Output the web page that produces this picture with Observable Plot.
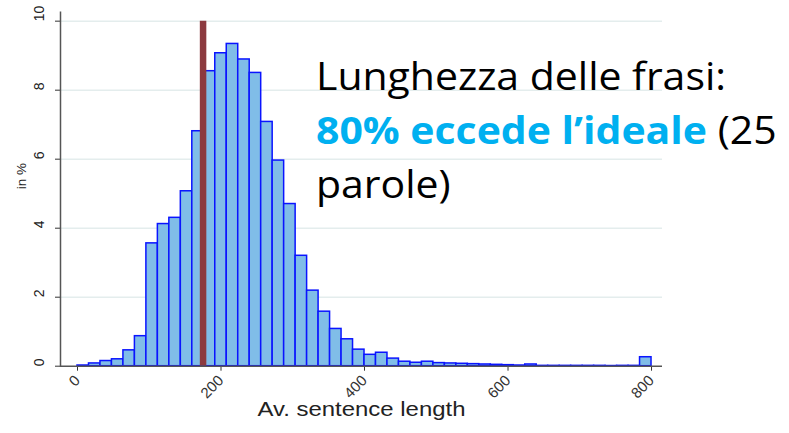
<!DOCTYPE html>
<html><head><meta charset="utf-8">
<script src="https://cdn.jsdelivr.net/npm/d3@7"></script>
<script src="https://cdn.jsdelivr.net/npm/@observablehq/plot@0.6"></script>
<style>
body{margin:0;background:#fff;}
#wrap{position:relative;width:789px;height:433px;overflow:hidden;background:#fff;}
#note{position:absolute;left:316px;top:48px;font-family:'Open Sans',Lato,sans-serif;font-size:38px;line-height:54px;white-space:nowrap;transform-origin:0 0;color:#000;}
#note .hl{color:#00b0f0;font-weight:bold;}
#note div{height:54px;}
</style></head><body>
<div id="wrap"><div id="chart"></div>
<div id="note"><div><span id="l1">Lunghezza delle frasi:</span></div><div><span class="hl">80% eccede l’ideale</span> (25</div><div>parole)</div></div>
</div>
<script>
const binStart = [0,16,32,48,64,80,96,112,128,144,160,176,192,208,224,240,256,272,288,304,320,336,352,368,384,400,416,432,448,464,480,496,512,528,544,560,576,592,608,624,640,656,672,688,704,720,736,752,768,784];
const binWidth = 16;
const share = [0.02,0.08,0.15,0.20,0.46,0.87,3.56,4.12,4.30,5.07,6.81,8.55,9.07,9.34,8.89,8.50,7.08,5.96,4.70,3.20,2.19,1.58,1.08,0.78,0.48,0.33,0.39,0.22,0.13,0.10,0.13,0.09,0.08,0.07,0.06,0.05,0.04,0.03,0.02,0.05,0.01,0.01,0.01,0.01,0.01,0.01,0.005,0.01,0.01,0.26];
const xTicks = [0,200,400,600,800];
const yTicks = [0,2,4,6,8,10];
const idealLength = 175;
const xLabel = "Av. sentence length";
const yLabel = "in %";

const note = document.getElementById("note");
const w = document.getElementById("l1").getBoundingClientRect().width;
note.style.transform = `scaleX(${410 / w})`;

const data = binStart.map((x1,i)=>({x1, x2: x1+binWidth, y: share[i]}));
const plot = Plot.plot({
  width: 789, height: 433,
  marginLeft: 60, marginRight: 127, marginTop: 11.7, marginBottom: 67.3,
  x: {domain: [-23.7, 815.3], ticks: xTicks, tickSize: 5, tickRotate: -45, label: null},
  y: {domain: [0, 10.26], ticks: yTicks, tickSize: 5, tickFormat: () => "", label: null},
  style: {fontFamily: "'Liberation Sans', Arial, sans-serif", fontSize: "15px", background: "white", color: "#333"},
  marks: [
    Plot.ruleY(yTicks.slice(1), {stroke: "#e4eded", strokeWidth: 1.5}),
    Plot.rectY(data, {x1: "x1", x2: "x2", y: "y", fill: "#80bde8", stroke: "#0a14ff", strokeWidth: 1.5}),
    Plot.ruleX([idealLength], {y1: 0, y2: 10, stroke: "#8c3a3f", strokeWidth: 6.5}),
    Plot.ruleY([0], {stroke: "#555", strokeWidth: 1.5}),
    Plot.frame({anchor: "left", stroke: "#555", strokeWidth: 1.5}),
    Plot.text(yTicks, {y: d => d, text: d => String(d), frameAnchor: "left", dx: -21, rotate: -90, fill: "#222"}),
    Plot.text([yLabel], {frameAnchor: "left", dx: -39, rotate: -90, fill: "#222"}),
    Plot.text([xLabel], {frameAnchor: "bottom", dy: 50, fill: "#222"})
  ]
});
document.getElementById("chart").appendChild(plot);
d3.select(plot).selectAll("text").each(function() {
  const t = this.textContent;
  if (t === xLabel) {
    this.style.fontSize = "21px";
    this.setAttribute("textLength", 208);
    this.setAttribute("lengthAdjust", "spacingAndGlyphs");
  } else if (t === yLabel) {
    this.style.fontSize = "13.5px";
  } else if (yTicks.map(String).includes(t) && this.getAttribute("transform") && /rotate\(-90\)/.test(this.getAttribute("transform"))) {
    this.style.fontSize = "14px";
  } else {
    this.style.fontSize = "15px";
  }
});
</script>
</body></html>
